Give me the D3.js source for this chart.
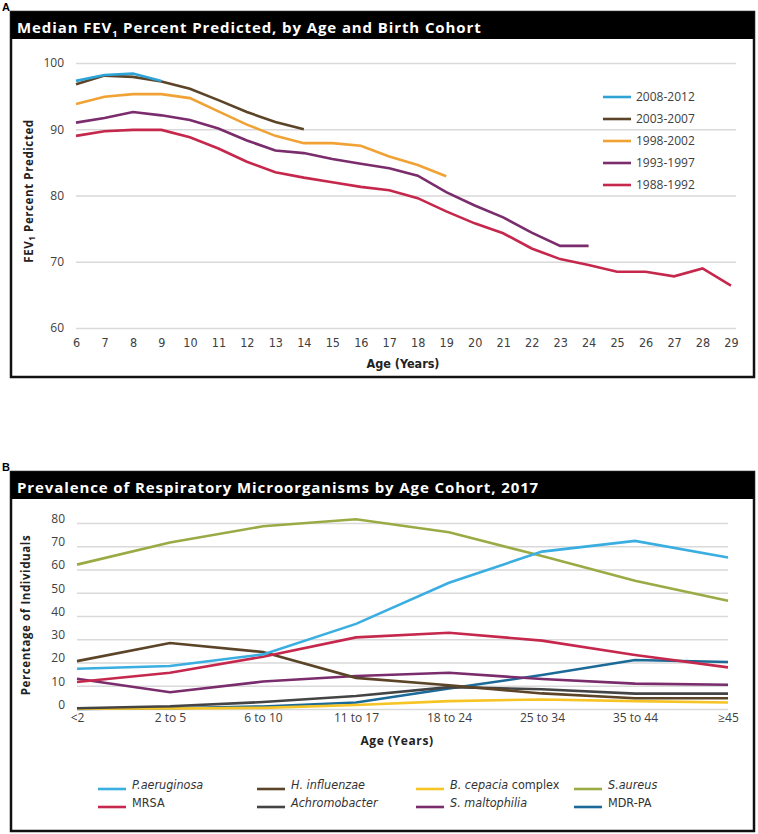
<!DOCTYPE html>
<html lang="en">
<head>
<meta charset="UTF-8">
<title>FEV1 and Microorganisms</title>
<script src="https://d3js.org/d3.v7.min.js"></script>
<style>
  body { margin: 0; background: #fff; }
  text { font-family: "Open Sans", "Noto Sans", sans-serif; }
  .tick line { stroke: #d9d9d9; stroke-width: 1.5; }
  .tick text { fill: #404040; font-size: 12px; }
  .narrow { font-family: "Liberation Sans Narrow", "DejaVu Sans Condensed", sans-serif; }
</style>
</head>
<body>
<script>
// ---- panel A data ----
var ages = d3.range(6, 30);
var cohorts = ["2008-2012", "2003-2007", "1998-2002", "1993-1997", "1988-1992"];
var cohortColors = ["#2ea3d6", "#5b4427", "#f0a234", "#7a2c6c", "#c5284c"];
var fev2008 = [97.3, 98.2, 98.4, 97.3];
var fev2003 = [96.8, 98.1, 97.9, 97.2, 96.1, 94.4, 92.6, 91.1, 90.0];
var fev1998 = [93.8, 94.9, 95.3, 95.3, 94.7, 92.7, 90.7, 89.0, 87.9, 87.9, 87.5, 85.9, 84.6, 82.9];
var fev1993 = [91.0, 91.7, 92.6, 92.1, 91.4, 90.1, 88.3, 86.8, 86.4, 85.5, 84.8, 84.1, 83.0, 80.5, 78.5, 76.7, 74.4, 72.4, 72.4];
var fev1988 = [89.0, 89.7, 89.9, 89.9, 88.8, 87.1, 85.1, 83.5, 82.7, 82.0, 81.3, 80.8, 79.6, 77.6, 75.8, 74.3, 72.0, 70.4, 69.5, 68.5, 68.5, 67.8, 69.0, 66.4];
var fevTicks = [60, 70, 80, 90, 100];

// ---- panel B data ----
var ageGroups = ["<2", "2 to 5", "6 to 10", "11 to 17", "18 to 24", "25 to 34", "35 to 44", "\u226545"];
var pctTicks = [0, 10, 20, 30, 40, 50, 60, 70, 80];
var paeruginosa  = [17.3, 18.5, 23.5, 36.6, 54.3, 67.7, 72.3, 65.2];
var mrsa         = [11.6, 15.6, 22.5, 30.8, 32.8, 29.4, 23.2, 17.9];
var hinfluenzae  = [20.6, 28.4, 24.5, 13.4, 10.2, 6.7, 4.6, 4.6];
var achromo      = [0.3, 1.2, 3.0, 5.6, 9.4, 8.5, 6.6, 6.6];
var bcepacia     = [0.1, 0.2, 0.5, 1.7, 3.4, 4.1, 3.4, 2.8];
var smalto       = [13.0, 7.2, 11.8, 14.2, 15.6, 12.9, 10.9, 10.4];
var saureus      = [62.1, 71.6, 78.6, 81.6, 76.0, 65.8, 55.2, 46.6];
var mdrpa        = [0.0, 0.3, 1.1, 2.8, 8.8, 14.6, 21.1, 20.2];
var orgNames = ["P.aeruginosa", "H. influenzae", "B. cepacia", "S.aureus", "MRSA", "Achromobacter", "S. maltophilia", "MDR-PA"];
var orgItalic = [true, true, true, true, false, true, true, false];
var orgColors = ["#3aaee0", "#5b4427", "#f6c424", "#9aab45", "#c5284c", "#444444", "#7a2c6c", "#1b6a98"];
var orgValues = [paeruginosa, hinfluenzae, bcepacia, saureus, mrsa, achromo, smalto, mdrpa];

var svg = d3.select("body").append("svg").attr("width", 758).attr("height", 834);

function panel(label, top, bottom, title) {
  svg.append("text").attr("x", 2).attr("y", top - 1).text(label)
    .style("font-family", "Liberation Sans, Arial, sans-serif").style("font-weight", "bold").style("font-size", "11px");
  svg.append("rect").attr("x", 11).attr("y", top).attr("width", 743).attr("height", bottom - top)
    .attr("fill", "#fff").attr("stroke", "#111").attr("stroke-width", 2.5);
  svg.append("rect").attr("x", 11).attr("y", top).attr("width", 743).attr("height", 27).attr("fill", "#000");
  var t = svg.append("text").attr("x", 17).attr("y", top + 21)
    .style("fill", "#fff").style("font-weight", "bold").style("font-size", "15px").style("letter-spacing", "0.9px");
  title(t);
}

// ================= PANEL A =================
panel("A", 12, 377, function(t) {
  t.append("tspan").text("Median FEV");
  t.append("tspan").text("1").style("font-size", "9px").attr("dy", 4);
  t.append("tspan").text(" Percent Predicted, by Age  and Birth Cohort").attr("dy", -4);
});

var xA = d3.scaleLinear().domain([6, 29]).range([76, 731]);
var yA = d3.scaleLinear().domain([60, 100]).range([328, 63]);

svg.append("g").attr("transform", "translate(76,0)")
  .call(d3.axisLeft(yA).tickValues(fevTicks).tickSize(-660).tickPadding(12))
  .call(function(g) { g.select(".domain").remove(); });

svg.append("g").attr("transform", "translate(0,330)")
  .call(d3.axisBottom(xA).tickValues(ages).tickSize(0).tickPadding(8))
  .call(function(g) { g.select(".domain").remove(); g.selectAll("text").attr("class", "narrow").style("font-size", "12.5px"); });

svg.append("text").attr("x", 403).attr("y", 368).attr("text-anchor", "middle").text("Age (Years)")
  .attr("class", "narrow").style("font-weight", "bold").style("font-size", "12.5px").style("fill", "#222");

var yt = svg.append("text").attr("transform", "translate(33,191) rotate(-90)").attr("text-anchor", "middle")
  .style("font-weight", "bold").style("font-size", "11.5px").style("fill", "#222").style("letter-spacing", "0.6px");
yt.append("tspan").text("FEV");
yt.append("tspan").text("1").style("font-size", "8px").attr("dy", 2);
yt.append("tspan").text(" Percent Predicted").attr("dy", -2);

var fevSeries = [fev2008, fev2003, fev1998, fev1993, fev1988];
var lineA = d3.line().x(function(d, i) { return xA(ages[i]); }).y(function(d) { return yA(d); });
for (var i = fevSeries.length - 1; i >= 0; i--) {
  svg.append("path").datum(fevSeries[i]).attr("d", lineA)
    .attr("fill", "none").attr("stroke", cohortColors[i]).attr("stroke-width", 2.6);
}

cohorts.forEach(function(c, i) {
  var y = 97 + i * 22;
  svg.append("line").attr("x1", 603).attr("x2", 631).attr("y1", y).attr("y2", y)
    .attr("stroke", cohortColors[i]).attr("stroke-width", 2.6);
  svg.append("text").attr("x", 636).attr("y", y + 4).text(c).style("font-size", "12px").style("fill", "#404040");
});

// ================= PANEL B =================
panel("B", 472, 831, function(t) {
  t.text("Prevalence of Respiratory Microorganisms by Age Cohort, 2017");
});

var xB = d3.scalePoint().domain(ageGroups).range([77, 728]);
var yB = d3.scaleLinear().domain([0, 80]).range([709, 523]);

svg.append("g").attr("transform", "translate(77,0)")
  .call(d3.axisLeft(yB).tickValues(pctTicks).tickSize(-651).tickPadding(12))
  .call(function(g) {
    g.select(".domain").remove();
    g.selectAll("text").attr("dy", "-0.05em");
  });

svg.append("g").attr("transform", "translate(0,706)")
  .call(d3.axisBottom(xB).tickSize(0).tickPadding(7))
  .call(function(g) { g.select(".domain").remove(); });

svg.append("text").attr("x", 397).attr("y", 745).attr("text-anchor", "middle").text("Age (Years)")
  .style("font-weight", "bold").style("font-size", "12px").style("fill", "#222").style("letter-spacing", "0.6px");

svg.append("text").attr("transform", "translate(30,615) rotate(-90)").attr("text-anchor", "middle")
  .text("Percentage of Individuals")
  .style("font-weight", "bold").style("font-size", "11.5px").style("fill", "#222").style("letter-spacing", "0.6px");

var lineB = d3.line().x(function(d, i) { return xB(ageGroups[i]); }).y(function(d) { return yB(d); });
[7, 2, 5, 6, 1, 4, 3, 0].forEach(function(k) {
  svg.append("path").datum(orgValues[k]).attr("d", lineB)
    .attr("fill", "none").attr("stroke", orgColors[k]).attr("stroke-width", 2.6);
});

var legX = [98, 257, 416, 574];
orgNames.forEach(function(n, i) {
  var col = i % 4, row = Math.floor(i / 4);
  var y = 787 + row * 18;
  svg.append("line").attr("x1", legX[col]).attr("x2", legX[col] + 28).attr("y1", y + 2).attr("y2", y + 2)
    .attr("stroke", orgColors[i]).attr("stroke-width", 2.6);
  var t = svg.append("text").attr("x", legX[col] + 34).attr("y", y + 2)
    .attr("class", "narrow").style("font-size", "12.5px").style("fill", "#333");
  t.append("tspan").text(n).style("font-style", orgItalic[i] ? "italic" : "normal");
  if (n === "B. cepacia") t.append("tspan").text(" complex");
});
</script>
</body>
</html>
